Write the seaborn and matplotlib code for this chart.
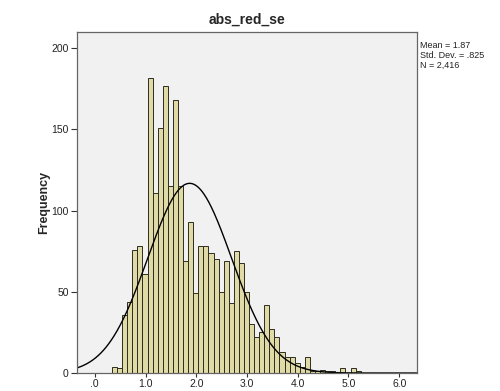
import numpy as np
import pandas as pd
import seaborn as sns
import matplotlib
matplotlib.use("Agg")
import matplotlib.pyplot as plt
from matplotlib.ticker import FuncFormatter

# histogram: bins of width 0.1 starting at 0.34
bin_start = 0.34
bin_width = 0.1
counts = [4, 3, 36, 44, 76, 78, 61, 182, 111, 151,
          177, 115, 168, 115, 69, 93, 49, 78, 78, 74,
          70, 50, 69, 43, 75, 68, 50, 30, 22, 25,
          42, 27, 22, 13, 10, 10, 6, 4, 10, 1,
          1, 2, 1, 1, 0, 3, 0, 3, 1]

title = "abs_red_se"
stat_mean = 1.87
stat_sd = 0.825
stat_n = 2416
x_ticks = [0, 1, 2, 3, 4, 5, 6]
y_ticks = [0, 50, 100, 150, 200]

n_bins = len(counts)
centers = bin_start + bin_width * (np.arange(n_bins) + 0.5)
df = pd.DataFrame({"value": centers, "count": counts})

sns.set_style("white")
plt.rcParams["font.family"] = ["Liberation Sans", "DejaVu Sans"]

fig = plt.figure(figsize=(5.0, 3.91), dpi=100)
ax = fig.add_axes([0.154, 0.046, 0.68, 0.872])
ax.set_facecolor("#f1f1f1")

sns.histplot(
    data=df,
    x="value",
    weights="count",
    binwidth=bin_width,
    binrange=(bin_start, bin_start + bin_width * n_bins),
    color="#e0dba6",
    edgecolor="#2e2e20",
    linewidth=0.7,
    alpha=1,
    ax=ax,
)

# normal curve from the reported statistics
xs = np.linspace(-0.35, 6.35, 400)
pdf = np.exp(-0.5 * ((xs - stat_mean) / stat_sd) ** 2) / (stat_sd * np.sqrt(2 * np.pi))
ax.plot(xs, pdf * stat_n * bin_width, color="black", linewidth=1.0)

ax.set_xlim(-0.35, 6.35)
ax.set_ylim(0, 210)
ax.set_xticks(x_ticks)
ax.set_yticks(y_ticks)
ax.xaxis.set_major_formatter(FuncFormatter(lambda v, p: f"{v:.1f}".lstrip("0") if v < 1 else f"{v:.1f}"))
ax.tick_params(axis="both", direction="out", length=4, width=0.8, color="#333333",
               labelsize=7.5, labelcolor="#222222", bottom=True, left=True)
ax.tick_params(axis="x", length=3, pad=1)
ax.tick_params(axis="y", pad=2)

ax.set_xlabel("")
ax.set_ylabel("Frequency", fontsize=9, fontweight="bold", labelpad=1)
ax.set_title(title, fontsize=10, fontweight="bold", pad=6)

for s in ax.spines.values():
    s.set_color("#666666")
    s.set_linewidth(0.9)

fig.text(0.84, 0.895,
         f"Mean = {stat_mean}\nStd. Dev. = {str(stat_sd).lstrip('0')}\nN = {stat_n:,}",
         fontsize=6.5, va="top", ha="left", linespacing=1.1, color="#222222")

fig.savefig("out.png", dpi=100, facecolor="white")
